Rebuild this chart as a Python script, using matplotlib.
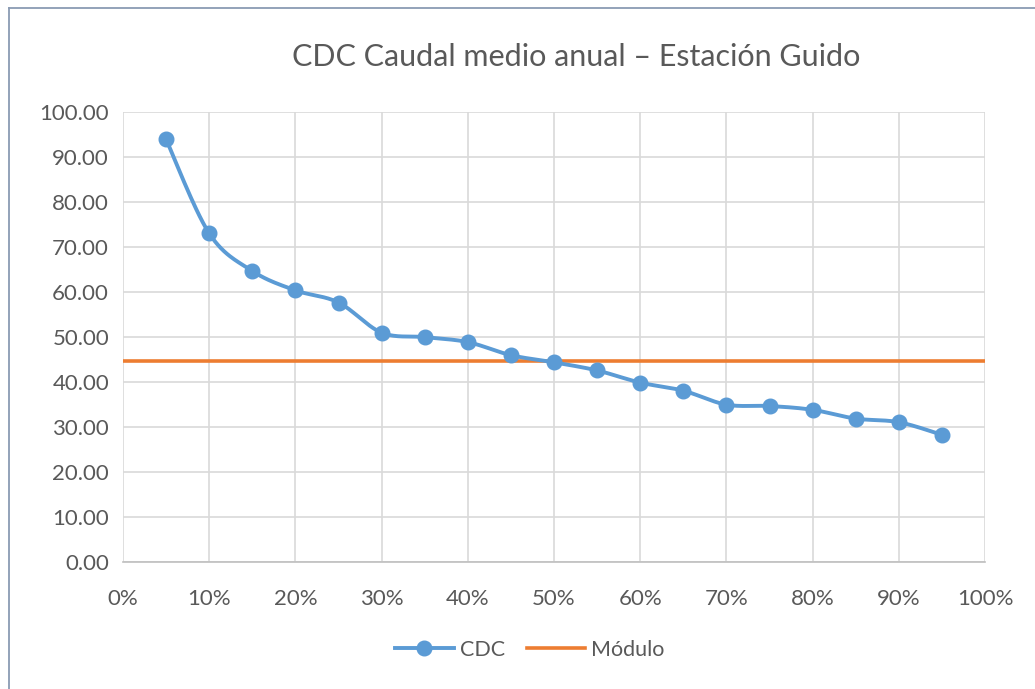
import numpy as np
import matplotlib.pyplot as plt
from matplotlib.lines import Line2D
from matplotlib.ticker import FuncFormatter, MultipleLocator

# probabilidad de excedencia (fraccion) y caudal (m3/s)
prob = [0.05, 0.10, 0.15, 0.20, 0.25, 0.30, 0.35, 0.40, 0.45, 0.50,
        0.55, 0.60, 0.65, 0.70, 0.75, 0.80, 0.85, 0.90, 0.95]
caudal = [93.85, 72.96, 64.6, 60.3, 57.6, 50.9, 49.9, 48.8, 45.9, 44.3,
          42.5, 39.8, 38.0, 34.9, 34.6, 33.75, 31.8, 31.0, 28.2]
modulo_x = [0.0, 1.0]
modulo = [44.7, 44.7]

BLUE = "#5B9BD5"
ORANGE = "#ED7D31"
TXT = "#595959"

plt.rcParams['font.family'] = ['Lato', 'DejaVu Sans']


def smooth(x, y, n=30):
    # curva suavizada tipo Excel (bezier / catmull-rom)
    x = np.asarray(x, float)
    y = np.asarray(y, float)
    px = np.concatenate([[x[0]], x, [x[-1]]])
    py = np.concatenate([[y[0]], y, [y[-1]]])
    xs, ys = [], []
    t = np.linspace(0, 1, n)
    for i in range(1, len(px) - 2):
        p0 = np.array([px[i], py[i]])
        p3 = np.array([px[i + 1], py[i + 1]])
        c1 = p0 + (np.array([px[i + 1], py[i + 1]]) - np.array([px[i - 1], py[i - 1]])) / 6
        c2 = p3 - (np.array([px[i + 2], py[i + 2]]) - np.array([px[i], py[i]])) / 6
        b = ((1 - t) ** 3)[:, None] * p0 + (3 * (1 - t) ** 2 * t)[:, None] * c1 \
            + (3 * (1 - t) * t ** 2)[:, None] * c2 + (t ** 3)[:, None] * p3
        xs.extend(b[:, 0])
        ys.extend(b[:, 1])
    return xs, ys


fig = plt.figure(figsize=(10.35, 6.89), dpi=100)
# borde del area del grafico (solo izquierda y arriba visibles)
bx, by = 8.5 / 1035, 1 - 7.5 / 689
fig.add_artist(Line2D([bx, bx], [0, by], transform=fig.transFigure,
                      color="#8A9BB3", linewidth=1.3))
fig.add_artist(Line2D([bx, 1], [by, by], transform=fig.transFigure,
                      color="#8A9BB3", linewidth=1.3))

ax = fig.add_axes([123 / 1035, 1 - 561.7 / 689, 862 / 1035, 450 / 689])

sx, sy = smooth(prob, caudal)
ax.plot(sx, sy, color=BLUE, linewidth=2.8, zorder=3, solid_capstyle='round')
ax.plot(prob, caudal, 'o', color=BLUE, markersize=10.5, zorder=4)
ax.plot(modulo_x, modulo, color=ORANGE, linewidth=2.6, zorder=2)

ax.set_xlim(0, 1)
ax.set_ylim(0, 100)
ax.xaxis.set_major_locator(MultipleLocator(0.1))
ax.yaxis.set_major_locator(MultipleLocator(10))
ax.xaxis.set_major_formatter(FuncFormatter(lambda v, p: f"{v * 100:.0f}%"))
ax.yaxis.set_major_formatter(FuncFormatter(lambda v, p: f"{v:.2f}"))
ax.grid(True, color="#D9D9D9", linewidth=1.2)
ax.set_axisbelow(True)
for s in ['top', 'right', 'left']:
    ax.spines[s].set_visible(False)
ax.spines['bottom'].set_color("#BFBFBF")
ax.spines['bottom'].set_linewidth(1.2)
ax.tick_params(length=0, labelsize=16, labelcolor=TXT)
ax.tick_params(axis='x', pad=20)
ax.tick_params(axis='y', pad=10)

fig.text(576 / 1035, 1 - 57 / 689, "CDC Caudal medio anual – Estación Guido",
         ha='center', va='center', fontsize=22, color=TXT)

h1, = ax.plot([], [], '-o', color=BLUE, linewidth=2.8, markersize=10.5)
h2, = ax.plot([], [], '-', color=ORANGE, linewidth=2.6)
fig.legend([h1, h2], ["CDC", "Módulo"], loc='center', bbox_to_anchor=(530 / 1035, 1 - 650 / 689),
           ncol=2, frameon=False, fontsize=15.5, labelcolor=TXT, handlelength=2.7,
           handletextpad=0.3, columnspacing=1.0)

fig.savefig("out.png", dpi=100)
